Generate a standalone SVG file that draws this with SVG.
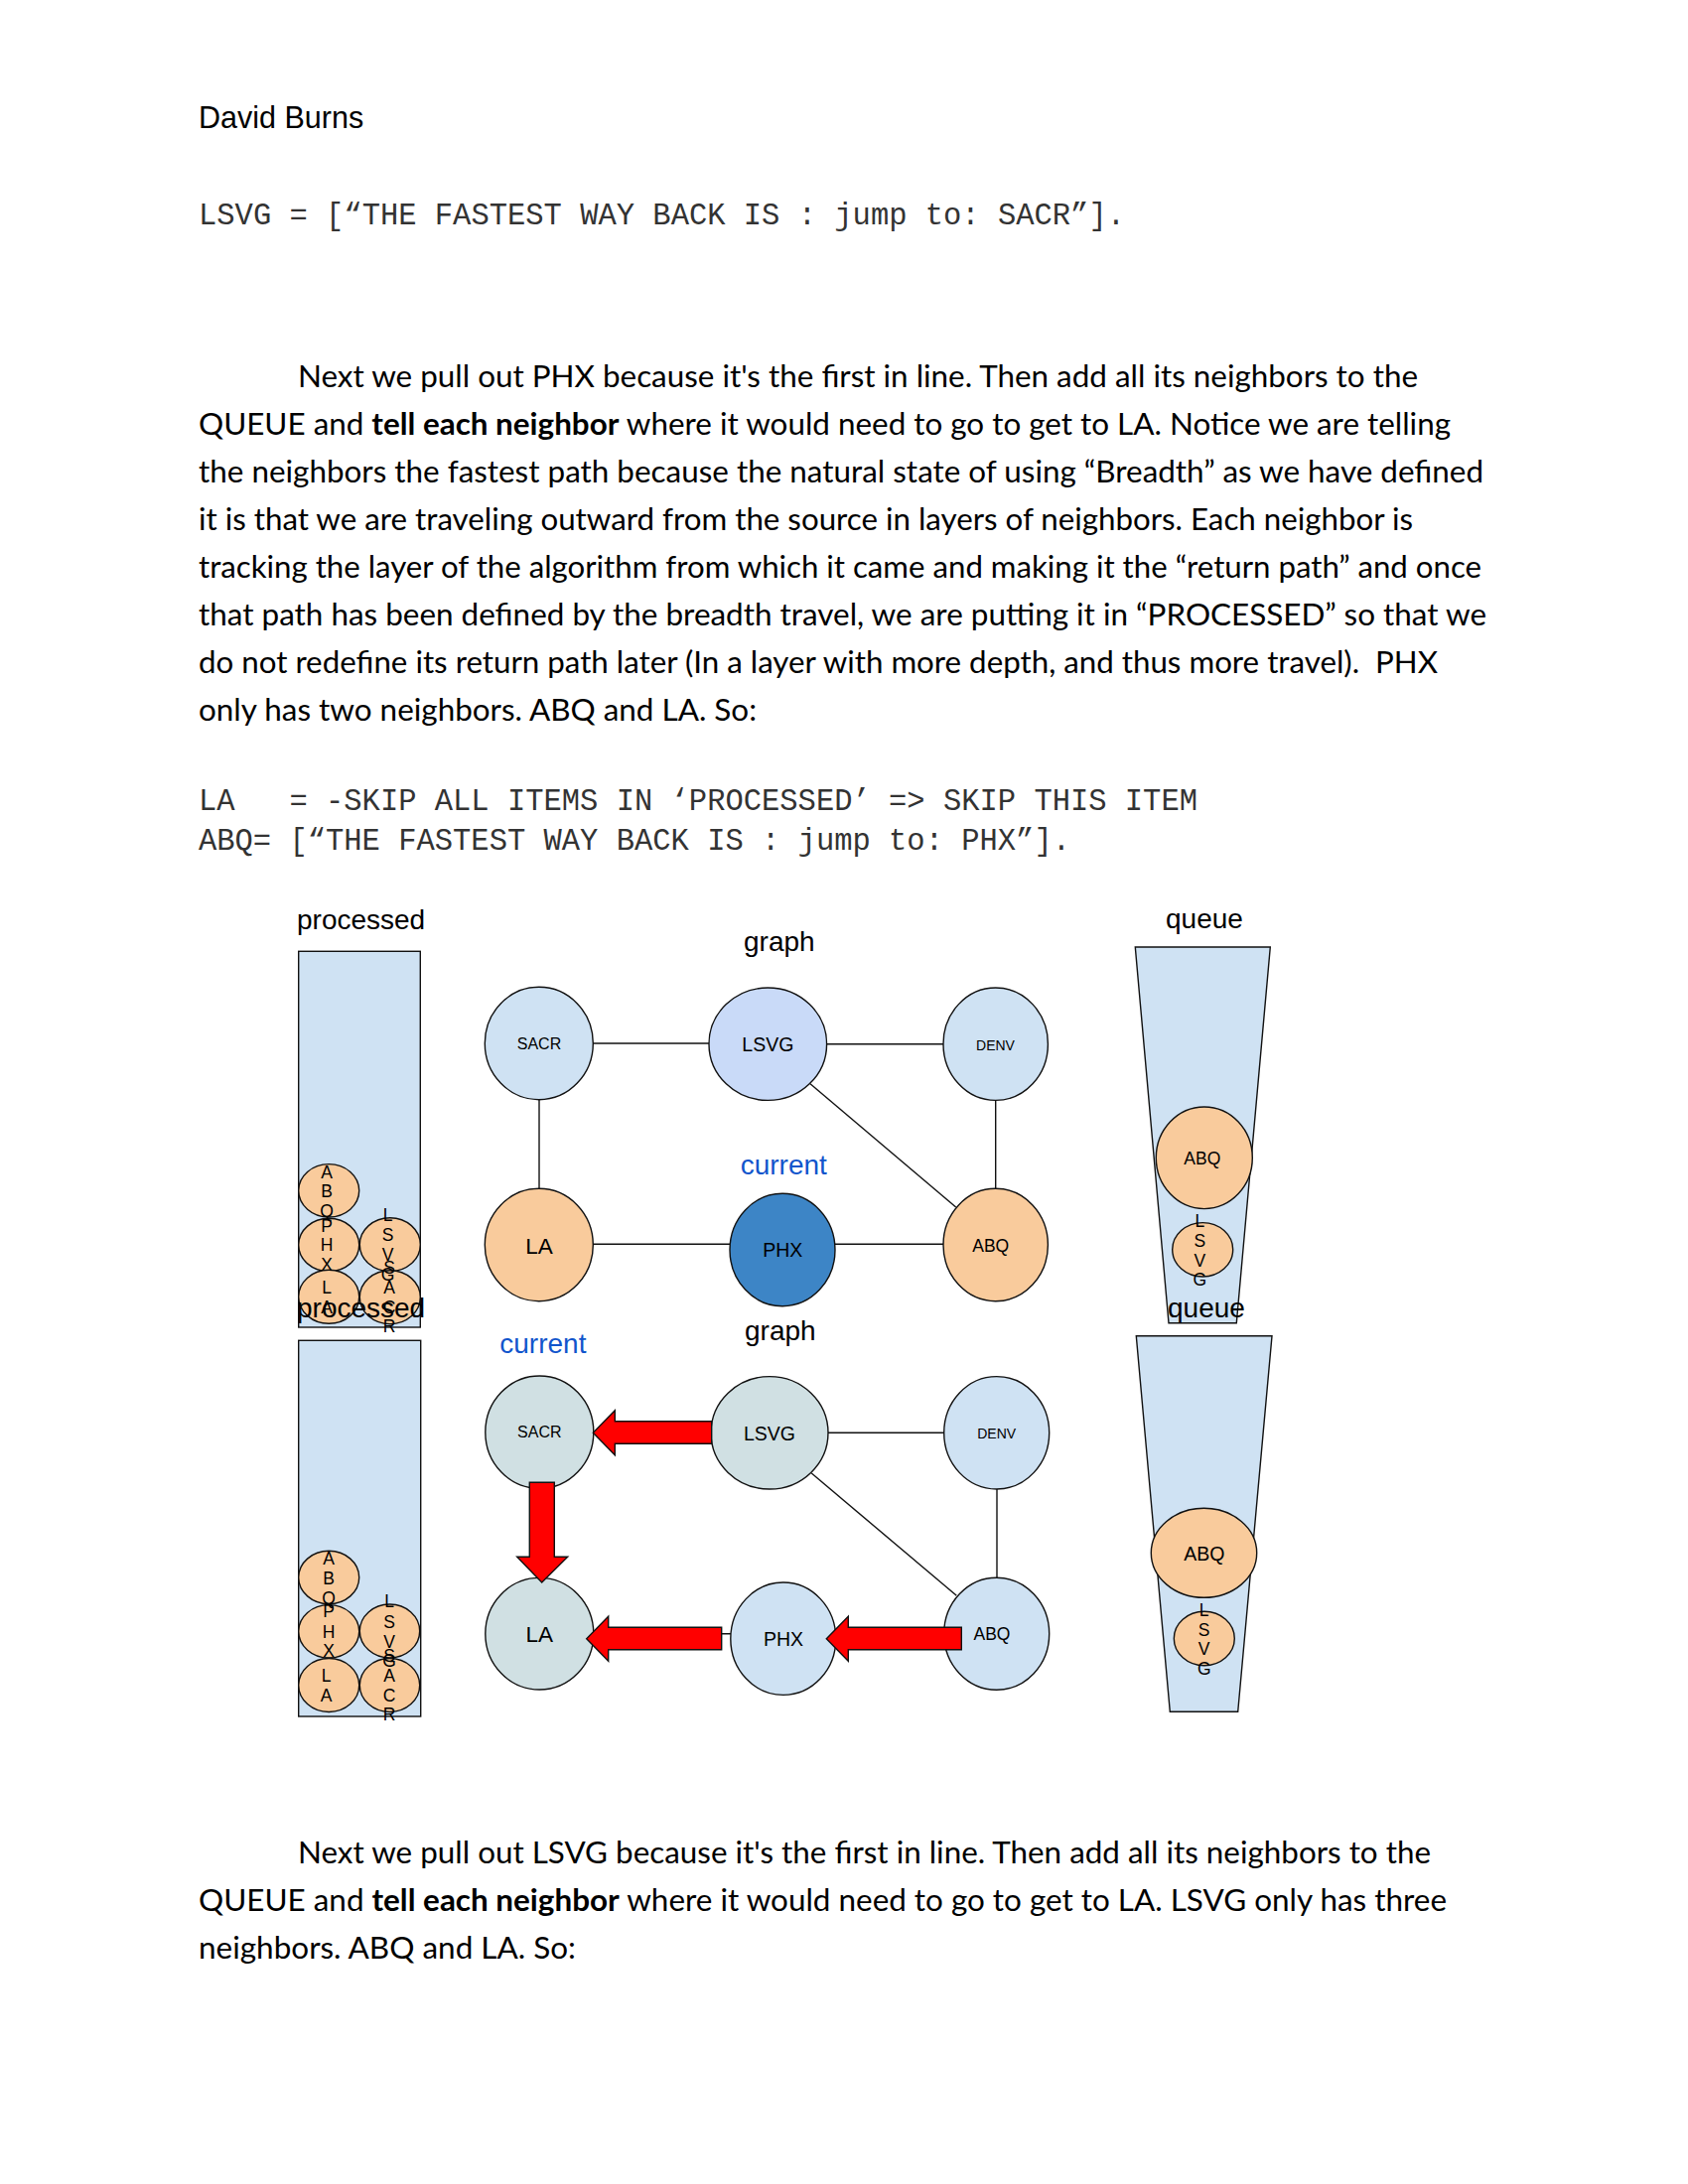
<svg xmlns="http://www.w3.org/2000/svg" width="1700" height="2200" viewBox="0 0 1700 2200">
<style>
  text { white-space: pre; }
  .para { font-family: "Lato", "Open Sans", sans-serif; font-size: 30px; fill: #000; }
  .b { font-weight: bold; }
  .mono { font-family: "Liberation Mono", monospace; font-size: 30.5px; fill: #333; }
  .head { font-family: "Liberation Sans", Arial, sans-serif; font-size: 30.5px; fill: #000; }
  .lbl { font-family: "Liberation Sans", Arial, sans-serif; font-size: 28px; fill: #000; }
  .cur { font-family: "Liberation Sans", Arial, sans-serif; font-size: 28px; fill: #1155cc; }
  .nt { font-family: "Liberation Sans", Arial, sans-serif; fill: #000; text-anchor: middle; }
  .lt { font-family: "Liberation Sans", Arial, sans-serif; font-size: 17.5px; fill: #000; text-anchor: middle; }
  .shape { stroke: #111; stroke-width: 1.4; }
  .lb { fill: #cfe2f3; }
  .or { fill: #f9cb9c; }
  .cb { fill: #c9daf8; }
  .db { fill: #3d85c6; }
  .gc { fill: #d0e0e3; }
  .edge { stroke: #111; stroke-width: 1.4; fill: none; }
  .arrow { fill: #ff0000; stroke: #111; stroke-width: 1.4; }
</style>

<!-- page text -->
<text class="head" x="200" y="129">David Burns</text>
<text class="mono" x="200" y="226" textLength="933" lengthAdjust="spacingAndGlyphs">LSVG = [“THE FASTEST WAY BACK IS : jump to: SACR”].</text>

<text class="para" x="300" y="390" textLength="1128" lengthAdjust="spacingAndGlyphs">Next we pull out PHX because it's the first in line. Then add all its neighbors to the</text>
<text class="para" x="200" y="438" textLength="1261" lengthAdjust="spacingAndGlyphs">QUEUE and <tspan class="b">tell each neighbor</tspan> where it would need to go to get to LA. Notice we are telling</text>
<text class="para" x="200" y="486" textLength="1294" lengthAdjust="spacingAndGlyphs">the neighbors the fastest path because the natural state of using “Breadth” as we have defined</text>
<text class="para" x="200" y="534" textLength="1223" lengthAdjust="spacingAndGlyphs">it is that we are traveling outward from the source in layers of neighbors. Each neighbor is</text>
<text class="para" x="200" y="582" textLength="1292" lengthAdjust="spacingAndGlyphs">tracking the layer of the algorithm from which it came and making it the “return path” and once</text>
<text class="para" x="200" y="630" textLength="1297" lengthAdjust="spacingAndGlyphs">that path has been defined by the breadth travel, we are putting it in “PROCESSED” so that we</text>
<text class="para" x="200" y="678" textLength="1248" lengthAdjust="spacingAndGlyphs">do not redefine its return path later (In a layer with more depth, and thus more travel).  PHX</text>
<text class="para" x="200" y="726" textLength="562" lengthAdjust="spacingAndGlyphs">only has two neighbors. ABQ and LA. So:</text>

<text class="mono" x="200" y="816" textLength="1006" lengthAdjust="spacingAndGlyphs">LA   = -SKIP ALL ITEMS IN ‘PROCESSED’ =&gt; SKIP THIS ITEM</text>
<text class="mono" x="200" y="856" textLength="878" lengthAdjust="spacingAndGlyphs">ABQ= [“THE FASTEST WAY BACK IS : jump to: PHX”].</text>

<text class="para" x="300" y="1877" textLength="1141" lengthAdjust="spacingAndGlyphs">Next we pull out LSVG because it's the first in line. Then add all its neighbors to the</text>
<text class="para" x="200" y="1925" textLength="1257" lengthAdjust="spacingAndGlyphs">QUEUE and <tspan class="b">tell each neighbor</tspan> where it would need to go to get to LA. LSVG only has three</text>
<text class="para" x="200" y="1973" textLength="380" lengthAdjust="spacingAndGlyphs">neighbors. ABQ and LA. So:</text>

<!-- ================= DIAGRAM 1 ================= -->
<g id="d1-processed">
  <rect class="shape lb" x="300.7" y="958.3" width="122.6" height="378.7"/>
  <ellipse class="shape or" cx="331.2" cy="1199.3" rx="30.5" ry="26.7"/>
  <ellipse class="shape or" cx="331.2" cy="1254" rx="30.5" ry="26.7"/>
  <ellipse class="shape or" cx="331.2" cy="1306.3" rx="30.5" ry="27"/>
  <ellipse class="shape or" cx="392.8" cy="1253.7" rx="30.5" ry="27"/>
  <ellipse class="shape or" cx="392.8" cy="1306.7" rx="30.5" ry="27"/>
  <text class="lt" x="329" y="1187">A</text><text class="lt" x="329" y="1206.3">B</text><text class="lt" x="329" y="1225.6">Q</text>
  <text class="lt" x="329" y="1241">P</text><text class="lt" x="329" y="1260.3">H</text><text class="lt" x="329" y="1279.6">X</text>
  <text class="lt" x="329" y="1302.6">L</text><text class="lt" x="329" y="1322.6">A</text>
  <text class="lt" x="390.5" y="1229.6">L</text><text class="lt" x="390.5" y="1249.8">S</text><text class="lt" x="390.5" y="1270">V</text><text class="lt" x="390.5" y="1290.3">G</text>
  <text class="lt" x="392" y="1283.3">S</text><text class="lt" x="392" y="1303.3">A</text><text class="lt" x="392" y="1322.8">C</text><text class="lt" x="392" y="1342.3">R</text>
</g>
<text class="lbl" x="299" y="935.7">processed</text>
<text class="lbl" x="749" y="958.3">graph</text>
<text class="cur" x="745.7" y="1183.3">current</text>

<g id="d1-connectors">
  <line class="edge" x1="597.3" y1="1051" x2="714" y2="1051"/>
  <line class="edge" x1="832.7" y1="1051.7" x2="950" y2="1051.7"/>
  <line class="edge" x1="543" y1="1107.7" x2="543" y2="1197.3"/>
  <line class="edge" x1="816" y1="1091.7" x2="962.7" y2="1216"/>
  <line class="edge" x1="1002.7" y1="1108.3" x2="1002.7" y2="1197.3"/>
  <line class="edge" x1="597.3" y1="1253.3" x2="735" y2="1253.3"/>
  <line class="edge" x1="841" y1="1253.3" x2="950" y2="1253.3"/>
</g>

<g id="d1-SACR"><ellipse class="shape lb" cx="542.8" cy="1051" rx="54.5" ry="56.7"/><text class="nt" x="543" y="1057" font-size="16">SACR</text></g>
<g id="d1-LSVG"><ellipse class="shape cb" cx="773.3" cy="1051.7" rx="59.3" ry="56.7"/><text class="nt" x="773.3" y="1059" font-size="19.5">LSVG</text></g>
<g id="d1-DENV"><ellipse class="shape lb" cx="1002.7" cy="1051.7" rx="52.7" ry="56.7"/><text class="nt" x="1002.5" y="1057.5" font-size="14">DENV</text></g>
<g id="d1-LA"><ellipse class="shape or" cx="542.8" cy="1254" rx="54.5" ry="56.7"/><text class="nt" x="543" y="1262.7" font-size="22.5">LA</text></g>
<g id="d1-PHX"><ellipse class="shape db" cx="788" cy="1259" rx="53" ry="56.7"/><text class="nt" x="788.3" y="1266" font-size="19.5">PHX</text></g>
<g id="d1-ABQ"><ellipse class="shape or" cx="1002.7" cy="1254" rx="52.7" ry="56.7"/><text class="nt" x="997.7" y="1260.7" font-size="17.5">ABQ</text></g>

<g id="d1-queue">
  <polygon class="shape lb" points="1143.3,954 1279.3,954 1245.3,1332.7 1177,1332.7"/>
  <ellipse class="shape or" cx="1212.8" cy="1166.3" rx="48.5" ry="51.3"/>
  <text class="nt" x="1210.8" y="1173.3" font-size="17.5">ABQ</text>
  <ellipse class="shape or" cx="1211.2" cy="1258.8" rx="30.5" ry="27.2"/>
  <text class="lt" x="1208.3" y="1236.3">L</text><text class="lt" x="1208.3" y="1256.3">S</text><text class="lt" x="1208.3" y="1275.6">V</text><text class="lt" x="1208.3" y="1294.6">G</text>
</g>
<text class="lbl" x="1174" y="935">queue</text>

<!-- ================= DIAGRAM 2 ================= -->
<g id="d2-processed">
  <rect class="shape lb" x="300.7" y="1350.3" width="123" height="378.7"/>
  <ellipse class="shape or" cx="331.2" cy="1589" rx="30.5" ry="26.7"/>
  <ellipse class="shape or" cx="331.2" cy="1643.3" rx="30.5" ry="26.7"/>
  <ellipse class="shape or" cx="331.2" cy="1697.5" rx="30.5" ry="27"/>
  <ellipse class="shape or" cx="392.5" cy="1643" rx="30.2" ry="27"/>
  <ellipse class="shape or" cx="392.5" cy="1697.5" rx="30.2" ry="27"/>
  <text class="lt" x="331" y="1576.3">A</text><text class="lt" x="331" y="1595.6">B</text><text class="lt" x="331" y="1615.6">Q</text>
  <text class="lt" x="331" y="1629">P</text><text class="lt" x="331" y="1649.6">H</text><text class="lt" x="331" y="1669">X</text>
  <text class="lt" x="328.5" y="1694">L</text><text class="lt" x="328.5" y="1713.6">A</text>
  <text class="lt" x="392" y="1619">L</text><text class="lt" x="392" y="1639.6">S</text><text class="lt" x="392" y="1659.6">V</text><text class="lt" x="392" y="1679">G</text>
  <text class="lt" x="392" y="1674.3">S</text><text class="lt" x="392" y="1693.6">A</text><text class="lt" x="392" y="1713.6">C</text><text class="lt" x="392" y="1733">R</text>
</g>
<text class="lbl" x="299" y="1326.7">processed</text>
<text class="lbl" x="750" y="1350">graph</text>
<text class="cur" x="503.3" y="1362.7">current</text>

<g id="d2-connectors">
  <line class="edge" x1="597.7" y1="1443" x2="716" y2="1443"/>
  <line class="edge" x1="834" y1="1443.3" x2="950.7" y2="1443.3"/>
  <line class="edge" x1="543.3" y1="1499.3" x2="543.3" y2="1589.3"/>
  <line class="edge" x1="817.3" y1="1484" x2="963.3" y2="1607.3"/>
  <line class="edge" x1="1004" y1="1500" x2="1004" y2="1589.3"/>
  <line class="edge" x1="597.7" y1="1645.7" x2="736" y2="1645.7"/>
  <line class="edge" x1="841.7" y1="1645.7" x2="950.7" y2="1645.7"/>
</g>

<g id="d2-SACR"><ellipse class="shape gc" cx="543.3" cy="1442.7" rx="54.5" ry="56.7"/><text class="nt" x="543.3" y="1448.3" font-size="16">SACR</text></g>
<g id="d2-LSVG"><ellipse class="shape gc" cx="775" cy="1443.3" rx="59" ry="56.7"/><text class="nt" x="775" y="1450.7" font-size="19.5">LSVG</text></g>
<g id="d2-DENV"><ellipse class="shape lb" cx="1003.7" cy="1443.3" rx="53" ry="56.7"/><text class="nt" x="1003.7" y="1449" font-size="14">DENV</text></g>
<g id="d2-LA"><ellipse class="shape gc" cx="543.3" cy="1645.7" rx="54.5" ry="56.3"/><text class="nt" x="543.3" y="1654" font-size="22.5">LA</text></g>
<g id="d2-PHX"><ellipse class="shape lb" cx="788.8" cy="1650.7" rx="53" ry="56.7"/><text class="nt" x="789" y="1658.3" font-size="19.5">PHX</text></g>
<g id="d2-ABQ"><ellipse class="shape lb" cx="1003.7" cy="1645.8" rx="53" ry="56.5"/><text class="nt" x="999" y="1652.3" font-size="17.5">ABQ</text></g>

<g id="d2-arrows">
  <polygon class="arrow" points="597.3,1443.3 619.3,1420.7 619.3,1431.7 716.7,1431.7 716.7,1454.3 619.3,1454.3 619.3,1465.7"/>
  <polygon class="arrow" points="533.3,1493.3 558.3,1493.3 558.3,1568.3 571.7,1568.3 545.7,1594 520.7,1568.3 533.3,1568.3"/>
  <polygon class="arrow" points="590.7,1650.7 612.7,1628.3 612.7,1639.3 726.7,1639.3 726.7,1661.7 612.7,1661.7 612.7,1673.3"/>
  <polygon class="arrow" points="832.3,1650.7 854.3,1628.3 854.3,1639.3 968.3,1639.3 968.3,1661.7 854.3,1661.7 854.3,1673.3"/>
</g>

<g id="d2-queue">
  <polygon class="shape lb" points="1144.3,1345.7 1281,1345.7 1246.7,1724.3 1178.3,1724.3"/>
  <ellipse class="shape or" cx="1212.5" cy="1564.3" rx="53.2" ry="45"/>
  <text class="nt" x="1212.8" y="1571.7" font-size="19.5">ABQ</text>
  <ellipse class="shape or" cx="1212.8" cy="1650.5" rx="30.5" ry="27.2"/>
  <text class="lt" x="1212.7" y="1628">L</text><text class="lt" x="1212.7" y="1648">S</text><text class="lt" x="1212.7" y="1667.3">V</text><text class="lt" x="1212.7" y="1687">G</text>
</g>
<text class="lbl" x="1176" y="1326.7">queue</text>
</svg>
